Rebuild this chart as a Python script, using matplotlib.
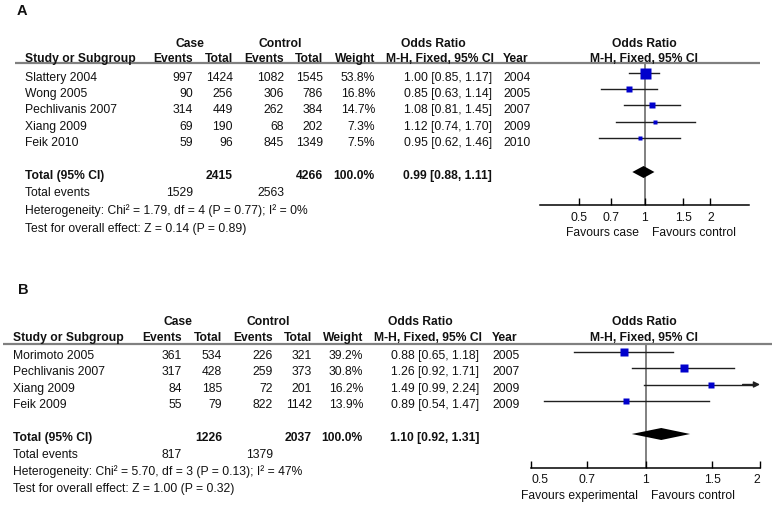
import matplotlib
matplotlib.use('Agg')
import matplotlib.pyplot as plt

plt.rcParams['font.family'] = ['Liberation Sans', 'DejaVu Sans']
plt.rcParams['font.size'] = 8.7

# ---------------- panel A data ----------------
studies_a = ['Slattery 2004', 'Wong 2005', 'Pechlivanis 2007', 'Xiang 2009', 'Feik 2010']
case_ev_a = [997, 90, 314, 69, 59]
case_tot_a = [1424, 256, 449, 190, 96]
ctrl_ev_a = [1082, 306, 262, 68, 845]
ctrl_tot_a = [1545, 786, 384, 202, 1349]
weight_a = [53.8, 16.8, 14.7, 7.3, 7.5]
or_a = [1.00, 0.85, 1.08, 1.12, 0.95]
lo_a = [0.85, 0.63, 0.81, 0.74, 0.62]
hi_a = [1.17, 1.14, 1.45, 1.70, 1.46]
year_a = [2004, 2005, 2007, 2009, 2010]
pooled_a = [0.99, 0.88, 1.11]
totals_a = [2415, 4266]
events_a = [1529, 2563]
het_a = 'Heterogeneity: Chi\u00b2 = 1.79, df = 4 (P = 0.77); I\u00b2 = 0%'
test_a = 'Test for overall effect: Z = 0.14 (P = 0.89)'
fav_a = ['Favours case', 'Favours control']

# ---------------- panel B data ----------------
studies_b = ['Morimoto 2005', 'Pechlivanis 2007', 'Xiang 2009', 'Feik 2009']
case_ev_b = [361, 317, 84, 55]
case_tot_b = [534, 428, 185, 79]
ctrl_ev_b = [226, 259, 72, 822]
ctrl_tot_b = [321, 373, 201, 1142]
weight_b = [39.2, 30.8, 16.2, 13.9]
or_b = [0.88, 1.26, 1.49, 0.89]
lo_b = [0.65, 0.92, 0.99, 0.54]
hi_b = [1.18, 1.71, 2.24, 1.47]
year_b = [2005, 2007, 2009, 2009]
pooled_b = [1.10, 0.92, 1.31]
totals_b = [1226, 2037]
events_b = [817, 1379]
het_b = 'Heterogeneity: Chi\u00b2 = 5.70, df = 3 (P = 0.13); I\u00b2 = 47%'
test_b = 'Test for overall effect: Z = 1.00 (P = 0.32)'
fav_b = ['Favours experimental', 'Favours control']

tick_vals = [0.5, 0.7, 1, 1.5, 2]
tick_labels = ['0.5', '0.7', '1', '1.5', '2']

W, H = 775, 505
TXT = '#111111'
BLUE = '#0000CC'
GREY = '#808080'

fig = plt.figure(figsize=(W / 100, H / 100), dpi=100)
base = fig.add_axes([0, 0, 1, 1])
base.set_xlim(0, W)
base.set_ylim(H, 0)
base.axis('off')


def txt(x, y, s, ha='left', bold=False, size=None):
    # y is the visual centre of the capitals, draw on the baseline
    base.text(x, y + 4, s, ha=ha, va='baseline', color=TXT,
              fontweight='bold' if bold else 'normal',
              fontsize=size if size else plt.rcParams['font.size'])


def px_axes(x0, y0, x1, y1):
    return fig.add_axes([x0 / W, 1 - y1 / H, (x1 - x0) / W, (y1 - y0) / H])


def panel(lay, studies, cev, ctot, kev, ktot, wt, orv, lo, hi, yrs,
          pooled, totals, events, het, test, fav):
    txt(lay['label'][0], lay['label'][1], lay['name'], bold=True, size=10.5)
    c = lay['cols']
    h1, h2 = lay['hdr']
    txt(lay['case_c'], h1, 'Case', ha='center', bold=True)
    txt(lay['ctrl_c'], h1, 'Control', ha='center', bold=True)
    txt(lay['or_c'][0], h1, 'Odds Ratio', ha='center', bold=True)
    txt(644, h1, 'Odds Ratio', ha='center', bold=True)
    txt(lay['sx'], h2, 'Study or Subgroup', bold=True)
    txt(c[0], h2, 'Events', ha='right', bold=True)
    txt(c[1], h2, 'Total', ha='right', bold=True)
    txt(c[2], h2, 'Events', ha='right', bold=True)
    txt(c[3], h2, 'Total', ha='right', bold=True)
    txt(c[4], h2, 'Weight', ha='right', bold=True)
    txt(lay['or_c'][1], h2, 'M-H, Fixed, 95% CI', ha='center', bold=True)
    txt(c[6], h2, 'Year', bold=True)
    txt(644, h2, 'M-H, Fixed, 95% CI', ha='center', bold=True)
    lx0, lx1, ly = lay['line']
    base.plot([lx0, lx1], [ly, ly], color=GREY, lw=1.6, solid_capstyle='butt')

    for i, y in enumerate(lay['rows']):
        txt(lay['sx'], y, studies[i])
        txt(c[0], y, str(cev[i]), ha='right')
        txt(c[1], y, str(ctot[i]), ha='right')
        txt(c[2], y, str(kev[i]), ha='right')
        txt(c[3], y, str(ktot[i]), ha='right')
        txt(c[4], y, '%.1f%%' % wt[i], ha='right')
        txt(c[5], y, '%.2f [%.2f, %.2f]' % (orv[i], lo[i], hi[i]), ha='right')
        txt(c[6], y, str(yrs[i]))

    ty, ey, hy, sy = lay['foot']
    txt(lay['sx'], ty, 'Total (95% CI)', bold=True)
    txt(c[1], ty, str(totals[0]), ha='right', bold=True)
    txt(c[3], ty, str(totals[1]), ha='right', bold=True)
    txt(c[4], ty, '100.0%', ha='right', bold=True)
    txt(c[5], ty, '%.2f [%.2f, %.2f]' % tuple(pooled), ha='right', bold=True)
    txt(lay['sx'], ey, 'Total events')
    txt(c[0], ey, str(events[0]), ha='right')
    txt(c[2], ey, str(events[1]), ha='right')
    txt(lay['sx'], hy, het)
    txt(lay['sx'], sy, test)

    # forest plot
    px0, py0, px1, py1 = lay['plot']
    ax = px_axes(px0, py0, px1, py1)
    ax.set_xscale('log')
    ax.set_xlim(*lay['xlim'])
    ax.set_ylim(py1, py0)
    ax.patch.set_alpha(0)
    for s in ['top', 'left', 'right']:
        ax.spines[s].set_visible(False)
    ax.spines['bottom'].set_linewidth(1.1)
    ax.set_yticks([])
    ax.set_xticks(tick_vals)
    ax.set_xticklabels(tick_labels)
    ax.minorticks_off()
    ax.tick_params(axis='x', direction='in', length=5, width=1, pad=5,
                   labelsize=8.7, labelcolor=TXT)
    if lay['edge_labels']:
        tl = ax.get_xticklabels()
        tl[0].set_ha('left')
        tl[-1].set_ha('right')
    ax.axvline(1, color=GREY, lw=1.4, zorder=1)

    xmax = lay['xlim'][1]
    for i, y in enumerate(lay['rows']):
        my = y - 3.5
        if hi[i] > xmax:
            ax.plot([lo[i], xmax * 0.97], [my, my], color='#202020', lw=1, zorder=2)
            ax.annotate('', xy=(xmax, my), xytext=(xmax * 0.9, my),
                        arrowprops=dict(arrowstyle='-|>', color='#202020', lw=1,
                                        mutation_scale=9, shrinkA=0, shrinkB=0),
                        annotation_clip=False)
        else:
            ax.plot([lo[i], hi[i]], [my, my], color='#202020', lw=1, zorder=2)
        side = lay['k'] * wt[i] ** 0.5 * 0.72
        ax.plot(orv[i], my, marker='s', ms=side, color=BLUE, mec='none', zorder=3)

    dy = ty - 3
    p, l, u = pooled
    ax.fill([l, p, u, p], [dy, dy - 6, dy, dy + 6], color='black', lw=0, zorder=3)

    fy = lay['fav_y']
    txt(lay['fav_x'][0], fy, fav[0], ha='right')
    txt(lay['fav_x'][1], fy, fav[1])


lay_a = dict(name='A', label=(17, 11), sx=25,
             cols=[193, 233, 284, 323, 375, 492, 503],
             case_c=190, ctrl_c=280, or_c=(433, 440), hdr=(43, 58),
             line=(15, 760, 63),
             rows=[77, 93, 109, 126, 142], foot=(175, 192, 210, 228),
             plot=(540, 63, 749, 205.5), xlim=(1 / 3, 3), edge_labels=False,
             k=11 / 53.8 ** 0.5, fav_y=232, fav_x=(639, 652))

lay_b = dict(name='B', label=(18, 290), sx=13,
             cols=[182, 222, 273, 312, 363, 479, 492],
             case_c=178, ctrl_c=268, or_c=(420, 428), hdr=(321, 337),
             line=(3, 772, 344),
             rows=[355, 371, 388, 404], foot=(437, 454, 471, 488),
             plot=(531, 344, 760, 467.5), xlim=(0.5, 2), edge_labels=True,
             k=8.5 / 39.2 ** 0.5, fav_y=495, fav_x=(638, 651))

panel(lay_a, studies_a, case_ev_a, case_tot_a, ctrl_ev_a, ctrl_tot_a, weight_a,
      or_a, lo_a, hi_a, year_a, pooled_a, totals_a, events_a, het_a, test_a, fav_a)
panel(lay_b, studies_b, case_ev_b, case_tot_b, ctrl_ev_b, ctrl_tot_b, weight_b,
      or_b, lo_b, hi_b, year_b, pooled_b, totals_b, events_b, het_b, test_b, fav_b)

fig.savefig('out.png', dpi=100)
